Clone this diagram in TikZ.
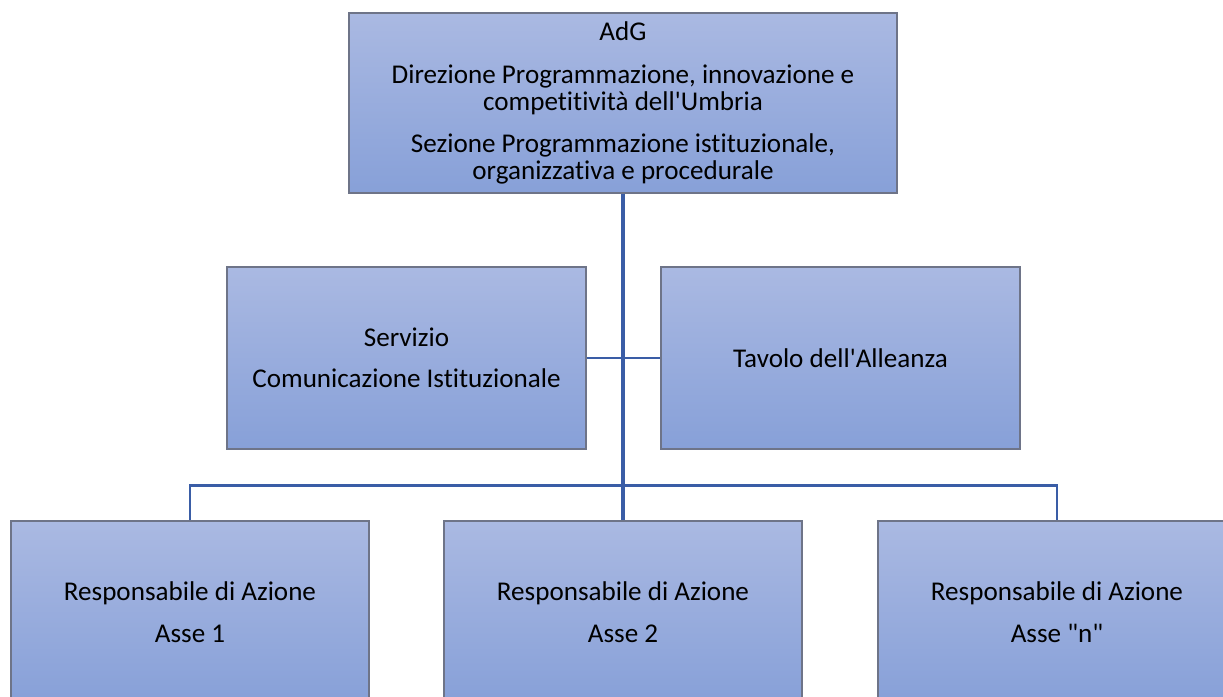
\documentclass[tikz,border=0pt]{standalone}
\usepackage{fontspec}
\setmainfont{Carlito}[Ligatures=NoCommon]
\definecolor{boxtop}{HTML}{AAB9E2}
\definecolor{boxbot}{HTML}{87A0D8}
\definecolor{boxborder}{HTML}{6E7488}
\definecolor{linkblue}{HTML}{3A5DA6}
\begin{document}
\begin{tikzpicture}[x=1bp,y=-1bp,
  box/.style={draw=boxborder, line width=1.2bp, top color=boxtop, bottom color=boxbot,
    minimum width=358bp, minimum height=182bp, align=center, inner sep=0pt,
    font=\fontsize{27.2}{27}\selectfont, text=black},
  link/.style={draw=linkblue, line width=2.2bp},
  trunkline/.style={draw=linkblue, line width=3.2bp}]
\clip (0,0) rectangle (1223,697);
\fill[white] (0,0) rectangle (1223,697);

\node[box, minimum width=548bp, minimum height=180bp] (top) at (623,103)
  {AdG\\[16bp]Direzione Programmazione, innovazione e\\competitività dell\textquotesingle Umbria\\[16bp]Sezione Programmazione istituzionale,\\organizzativa e procedurale};
\node[box, minimum width=359bp] (serv) at (406.5,358) {Servizio\\[14bp]Comunicazione Istituzionale};
\node[box, minimum width=359bp] (tav) at (840.5,358) {Tavolo dell\textquotesingle Alleanza};
\node[box] (a1) at (190,612) {Responsabile di Azione\\[15bp]Asse 1};
\node[box] (a2) at (623,612) {Responsabile di Azione\\[15bp]Asse 2};
\node[box] (an) at (1057,612) {Responsabile di Azione\\[15bp]Asse \textquotedbl n\textquotedbl};

\draw[trunkline] (top.south) -- (a2.north);
\draw[link] (serv.east) -- (tav.west);
\draw[link] (a1.north) -- ++(0,-35) -| (an.north);
\end{tikzpicture}
\end{document}
